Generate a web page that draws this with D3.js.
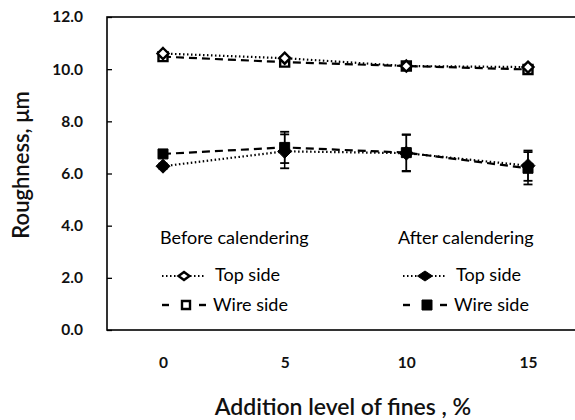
<!DOCTYPE html>
<html>
<head>
<meta charset="utf-8">
<script src="https://cdn.jsdelivr.net/npm/d3@7"></script>
<style>
  body { margin: 0; background: #fff; }
  svg { display: block; font-family: Lato, "Open Sans", sans-serif; }
</style>
</head>
<body>
<svg id="chart" width="575" height="420"></svg>
<script>
// data
const fines = [0, 5, 10, 15];
const beforeTop = [10.6, 10.42, 10.12, 10.08];
const beforeWire = [10.48, 10.27, 10.12, 9.99];
const afterTop = [6.28, 6.85, 6.78, 6.3];
const afterWire = [6.75, 7.0, 6.8, 6.2];
const afterTopErr = [0.1, 0.65, 0.7, 0.58];
const afterWireErr = [0.1, 0.6, 0.7, 0.62];
const yTicks = [0, 2, 4, 6, 8, 10, 12];

const svg = d3.select('#chart');
const margin = { top: 17, left: 107, bottom: 90 };
const plotW = 480;
const plotH = 420 - margin.top - margin.bottom;

const x = d3.scaleLinear().domain([0, 15]).range([56, 421]);
const y = d3.scaleLinear().domain([0, 12]).range([plotH, 0]);

const g = svg.append('g').attr('transform', `translate(${margin.left},${margin.top})`);

// frame (right side runs off the picture)
g.append('rect')
  .attr('x', 0).attr('y', 0)
  .attr('width', plotW).attr('height', plotH)
  .attr('fill', 'none')
  .attr('stroke', '#000')
  .attr('stroke-width', 1.6);

// y axis ticks + labels
const yAxis = d3.axisLeft(y).tickValues(yTicks).tickSize(-5).tickPadding(24)
  .tickFormat(d3.format('.1f'));
g.append('g').call(yAxis)
  .call(s => s.select('.domain').remove())
  .call(s => s.selectAll('line').attr('stroke', '#000').attr('stroke-width', 1.3))
  .call(s => s.selectAll('text')
    .attr('font-size', 15.5).attr('font-weight', 700)
    .attr('font-family', 'Lato, sans-serif').attr('fill', '#111'));

// x labels (no ticks)
const xAxis = d3.axisBottom(x).tickValues(fines).tickSize(0).tickPadding(27);
g.append('g').attr('transform', `translate(0,${plotH})`).call(xAxis)
  .call(s => s.select('.domain').remove())
  .call(s => s.selectAll('text')
    .attr('font-size', 15.5).attr('font-weight', 700)
    .attr('font-family', 'Lato, sans-serif').attr('fill', '#111'));

// axis titles
svg.append('text')
  .attr('x', 343).attr('y', 415)
  .attr('text-anchor', 'middle')
  .attr('font-size', 23).attr('font-weight', 600)
  .attr('fill', '#111')
  .text('Addition level of fines , %');

svg.append('text')
  .attr('transform', 'translate(29,165) rotate(-90)')
  .attr('text-anchor', 'middle')
  .attr('font-size', 22).attr('font-weight', 600)
  .attr('fill', '#111')
  .text('Roughness, μm');

// marker helpers
function diamondPath(rx, ry) {
  ry = ry || rx;
  return `M0,${-ry}L${rx},0L0,${ry}L${-rx},0Z`;
}
function squarePath(r) {
  return `M${-r},${-r}H${r}V${r}H${-r}Z`;
}

const dotted = '1.5,2.5';
const dashed = '8,5';

const series = [
  { vals: beforeWire, dash: dashed, shape: 'square', fill: '#fff' },
  { vals: beforeTop, dash: dotted, shape: 'diamond', fill: '#fff' },
  { vals: afterWire, err: afterWireErr, dash: dashed, shape: 'square', fill: '#000' },
  { vals: afterTop, err: afterTopErr, dash: dotted, shape: 'diamond', fill: '#000' }
];

const line = d3.line()
  .x(d => x(d[0]))
  .y(d => y(d[1]));

series.forEach(s => {
  const pts = fines.map((f, i) => [f, s.vals[i]]);
  g.append('path')
    .datum(pts)
    .attr('d', line)
    .attr('fill', 'none')
    .attr('stroke', '#000')
    .attr('stroke-width', 2.2)
    .attr('stroke-dasharray', s.dash);
});

// error bars
series.filter(s => s.err).forEach(s => {
  const eb = g.append('g');
  fines.forEach((f, i) => {
    const cx = x(f);
    const top = y(s.vals[i] + s.err[i]);
    const bot = y(s.vals[i] - s.err[i]);
    eb.append('line').attr('x1', cx).attr('x2', cx).attr('y1', top).attr('y2', bot)
      .attr('stroke', '#000').attr('stroke-width', 1.5);
    [top, bot].forEach(v => {
      eb.append('line').attr('x1', cx - 4.5).attr('x2', cx + 4.5).attr('y1', v).attr('y2', v)
        .attr('stroke', '#000').attr('stroke-width', 1.8);
    });
  });
});

// markers
series.forEach(s => {
  const open = s.fill === '#fff';
  g.selectAll(null)
    .data(fines.map((f, i) => [f, s.vals[i]]))
    .enter()
    .append('path')
    .attr('transform', d => `translate(${x(d[0])},${y(d[1])})`)
    .attr('d', s.shape === 'square' ? squarePath(open ? 4.5 : 5) : diamondPath(open ? 5.5 : 7))
    .attr('fill', s.fill)
    .attr('stroke', '#000')
    .attr('stroke-width', open ? 2.4 : 1);
});

// legend
const legendGroups = [
  { title: 'Before calendering', x: 160, titleDx: 0, fill: '#fff' },
  { title: 'After calendering', x: 401, titleDx: -3, fill: '#000' }
];
const legendRows = [
  { label: 'Top side', dash: dotted, shape: 'diamond', y: 276, textDx: 55, textDy: 4.5 },
  { label: 'Wire side', dash: dashed, shape: 'square', y: 305, textDx: 53, textDy: 6 }
];

legendGroups.forEach(lg => {
  const open = lg.fill === '#fff';
  const lgG = svg.append('g').attr('transform', `translate(${lg.x},0)`);
  lgG.append('text')
    .attr('x', lg.titleDx).attr('y', 244)
    .attr('font-size', 18).attr('fill', '#000')
    .text(lg.title);
  legendRows.forEach(r => {
    const ry = r.y;
    if (r.shape === 'diamond') {
      lgG.append('line').attr('x1', 2).attr('x2', 46).attr('y1', ry).attr('y2', ry)
        .attr('stroke', '#000').attr('stroke-width', 2).attr('stroke-dasharray', dotted);
    } else {
      lgG.append('line').attr('x1', 2).attr('x2', 9).attr('y1', ry).attr('y2', ry)
        .attr('stroke', '#000').attr('stroke-width', 2.4);
      lgG.append('line').attr('x1', 39).attr('x2', 46).attr('y1', ry).attr('y2', ry)
        .attr('stroke', '#000').attr('stroke-width', 2.4);
    }
    lgG.append('path')
      .attr('transform', `translate(${r.shape === 'diamond' ? 24 : 26},${ry})`)
      .attr('d', r.shape === 'square' ? squarePath(open ? 4 : 5) : (open ? diamondPath(5.5, 4) : diamondPath(7.5, 5)))
      .attr('fill', lg.fill)
      .attr('stroke', '#000')
      .attr('stroke-width', open ? 2.4 : 1);
    lgG.append('text')
      .attr('x', r.textDx).attr('y', ry + r.textDy)
      .attr('font-size', 18).attr('fill', '#000')
      .text(r.label);
  });
});
</script>
</body>
</html>
